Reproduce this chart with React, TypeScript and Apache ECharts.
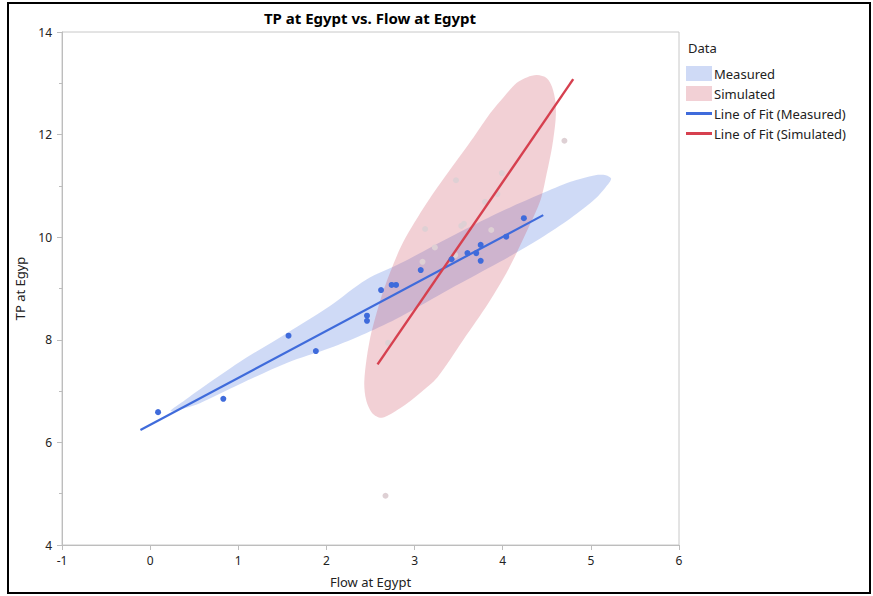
import React, { useEffect, useRef } from 'react';
import * as echarts from 'echarts';

// Measured observations (Flow at Egypt, TP at Egypt)
const measuredFlow = [0.09, 0.83, 1.57, 1.88, 2.46, 2.46, 2.62, 2.74, 2.79, 3.07, 3.42, 3.60, 3.70, 3.75, 3.75, 4.04, 4.24];
const measuredTP = [6.59, 6.85, 8.08, 7.78, 8.47, 8.37, 8.97, 9.07, 9.07, 9.36, 9.57, 9.69, 9.69, 9.85, 9.54, 10.01, 10.37];

// Simulated observations
const simulatedFlow = [4.70, 3.47, 3.99, 3.94, 3.80, 3.12, 3.53, 3.56, 3.87, 3.23, 3.09, 3.46, 2.70, 2.67];
const simulatedTP = [11.88, 11.11, 11.25, 10.84, 10.69, 10.16, 10.22, 10.26, 10.14, 9.80, 9.52, 9.65, 7.94, 4.96];

// Lines of fit (end points in data units)
const fitMeasured = [[-0.11, 6.24], [4.46, 10.43]];
const fitSimulated = [[2.58, 7.52], [4.80, 13.08]];

// Density ellipse outlines (data units)
const ellipseMeasured = [
  [0.23, 6.61], [0.40, 6.83], [0.57, 7.04], [1.02, 7.57], [1.55, 8.13], [2.04, 8.66], [2.45, 9.17],
  [2.84, 9.49], [3.40, 10.00], [3.97, 10.49], [4.43, 10.84], [4.77, 11.08], [5.05, 11.21], [5.17, 11.21],
  [5.23, 11.14], [5.17, 10.98], [5.05, 10.75], [4.77, 10.37], [4.43, 9.98], [3.97, 9.52], [3.40, 8.99],
  [2.84, 8.45], [2.45, 8.13], [2.04, 7.84], [1.55, 7.55], [1.02, 7.14], [0.57, 6.77], [0.40, 6.67],
];
const ellipseSimulated = [
  [4.39, 13.16], [4.50, 13.10], [4.56, 12.93], [4.60, 12.62], [4.60, 12.29], [4.56, 11.76],
  [4.50, 11.25], [4.43, 10.73], [4.28, 10.14], [4.06, 9.36], [3.84, 8.72], [3.55, 7.99], [3.26, 7.27],
  [3.06, 6.96], [2.84, 6.67], [2.63, 6.48], [2.52, 6.57], [2.45, 6.83], [2.43, 7.20], [2.49, 7.98],
  [2.61, 8.76], [2.72, 9.30], [2.87, 9.90], [3.14, 10.67], [3.40, 11.31], [3.67, 11.95], [3.86, 12.42],
  [4.01, 12.73], [4.16, 13.01], [4.28, 13.12],
];

const xTicks = { min: -1, max: 6, interval: 1 };
const yTicks = { min: 4, max: 14, interval: 2 };

const FONT = '"Noto Sans", "Open Sans", sans-serif';
const BLUE = '#3f6bdb';
const RED = '#d6404f';
const BLUE_FILL = 'rgba(63,107,219,0.25)';
const RED_FILL = 'rgba(203,67,87,0.25)';

function ellipseSeries(name: string, pts: number[][], fill: string, z: number) {
  return {
    type: 'custom',
    name,
    coordinateSystem: 'cartesian2d',
    data: pts,
    encode: { x: 0, y: 1 },
    z,
    silent: true,
    itemStyle: { color: fill },
    renderItem: (params: any, api: any) => {
      if (params.dataIndex !== 0) return null;
      return {
        type: 'polygon',
        shape: { points: pts.map((p) => api.coord(p)), smooth: 0.3 },
        style: { fill, stroke: 'none' },
      };
    },
  };
}

export default function App() {
  const ref = useRef<HTMLDivElement>(null);
  useEffect(() => {
    document.body.style.margin = '0';
    const chart = echarts.init(ref.current!, null, { renderer: 'svg' });
    const axisColor = '#bdbdbd';
    const option: any = {
      animation: false,
      textStyle: { fontFamily: FONT },
      grid: { left: 62, top: 32, right: 194, bottom: 51, show: true, borderColor: '#c8c8c8', borderWidth: 1 },
      xAxis: {
        type: 'value',
        min: xTicks.min,
        max: xTicks.max,
        interval: xTicks.interval,
        name: 'Flow at Egypt',
        nameLocation: 'middle',
        nameGap: 30,
        nameTextStyle: { fontSize: 13, color: '#222', fontFamily: FONT },
        axisLine: { show: true, onZero: false, lineStyle: { color: axisColor } },
        axisTick: { show: true, length: 5, lineStyle: { color: axisColor } },
        axisLabel: { fontSize: 12, color: '#222', margin: 9, fontFamily: FONT },
        splitLine: { show: false },
      },
      yAxis: {
        type: 'value',
        min: yTicks.min,
        max: yTicks.max,
        interval: yTicks.interval,
        name: 'TP at Egyp',
        nameLocation: 'middle',
        nameGap: 36,
        nameTextStyle: { fontSize: 13, color: '#222', fontFamily: FONT },
        axisLine: { show: true, onZero: false, lineStyle: { color: axisColor } },
        axisTick: { show: true, length: 5, lineStyle: { color: axisColor } },
        minorTick: { show: true, splitNumber: 2, length: 3, lineStyle: { color: axisColor } },
        axisLabel: { fontSize: 12, color: '#222', margin: 10, fontFamily: FONT },
        splitLine: { show: false },
      },
      legend: {
        orient: 'vertical',
        left: 686,
        top: 66,
        padding: 0,
        itemWidth: 26,
        itemHeight: 15,
        itemGap: 5,
        textStyle: { fontSize: 13, lineHeight: 15, color: '#222', fontFamily: FONT, padding: [0, 0, 0, -3] },
        selectedMode: false,
        data: [
          { name: 'Measured', icon: 'rect', itemStyle: { color: BLUE_FILL } },
          { name: 'Simulated', icon: 'rect', itemStyle: { color: RED_FILL } },
          { name: 'Line of Fit (Measured)', icon: 'path://M0,0H26V3H0Z', itemStyle: { color: BLUE } },
          { name: 'Line of Fit (Simulated)', icon: 'path://M0,0H26V3H0Z', itemStyle: { color: RED } },
        ],
      },
      graphic: [
        {
          type: 'rect',
          shape: { x: 8, y: 3, width: 862, height: 590 },
          style: { fill: 'none', stroke: '#000', lineWidth: 2 },
          silent: true,
        },
        {
          type: 'text',
          style: {
            x: 370, y: 18, text: 'TP at Egypt vs. Flow at Egypt',
            font: `bold 15px ${FONT}`, fill: '#000', textAlign: 'center', textVerticalAlign: 'middle',
          },
        },
        {
          type: 'text',
          style: {
            x: 688, y: 48, text: 'Data',
            font: `13px ${FONT}`, fill: '#222', textAlign: 'left', textVerticalAlign: 'middle',
          },
        },
      ],
      series: [
        ellipseSeries('Measured', ellipseMeasured, BLUE_FILL, 1),
        ellipseSeries('Simulated', ellipseSimulated, RED_FILL, 2),
        {
          type: 'scatter',
          name: 'Simulated points',
          data: simulatedFlow.map((x, i) => [x, simulatedTP[i]]),
          symbolSize: 6,
          itemStyle: { color: '#ded0d4', opacity: 1 },
          z: 3,
          silent: true,
        },
        {
          type: 'line',
          name: 'Line of Fit (Measured)',
          data: fitMeasured,
          showSymbol: false,
          lineStyle: { color: BLUE, width: 2.2 },
          itemStyle: { color: BLUE },
          z: 4,
          silent: true,
        },
        {
          type: 'line',
          name: 'Line of Fit (Simulated)',
          data: fitSimulated,
          showSymbol: false,
          lineStyle: { color: RED, width: 2.4 },
          itemStyle: { color: RED },
          z: 5,
          silent: true,
        },
        {
          type: 'scatter',
          name: 'Measured points',
          data: measuredFlow.map((x, i) => [x, measuredTP[i]]),
          symbolSize: 6,
          itemStyle: { color: BLUE, opacity: 1 },
          z: 6,
          silent: true,
        },
      ],
    };
    chart.setOption(option);
    return () => chart.dispose();
  }, []);
  return <div ref={ref} style={{ width: 873, height: 596 }} />;
}
